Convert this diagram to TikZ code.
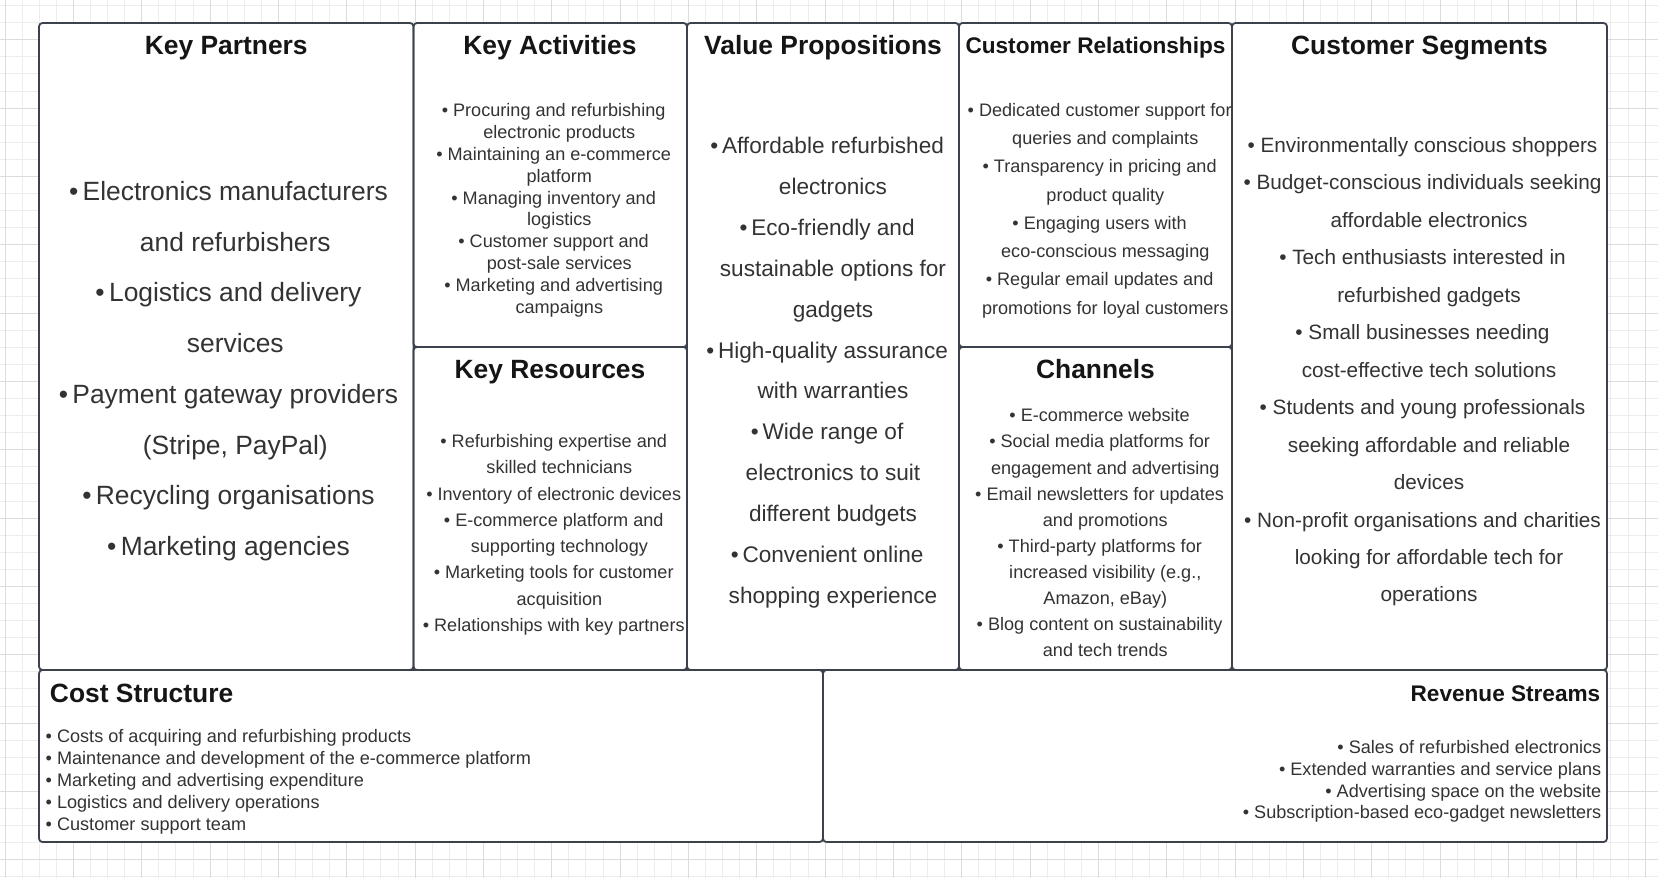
\documentclass[tikz,border=0pt]{standalone}
\usepackage{fontspec}
\setmainfont{Liberation Sans}
\usetikzlibrary{fit}
\definecolor{gridminor}{HTML}{EDEDED}
\definecolor{gridmajor}{HTML}{DCDCDC}
\definecolor{frame}{HTML}{3C424B}
\definecolor{headtext}{HTML}{151515}
\definecolor{bodytext}{HTML}{333333}
% hanging bullets for centred lists (the item text stays centred)
\newcommand{\bl}{\llap{•\ }}
\newcommand{\bn}{\llap{•\,}}
% inline bullet for left/right aligned lists
\newcommand{\bx}{•\ }
\begin{document}
\begin{tikzpicture}[x=1pt,y=-1pt,
  cellbox/.style={draw=frame, line width=1.8pt, rounded corners=3.5pt, inner sep=0pt},
  head/.style={text=headtext, font=\bfseries\fontsize{26.4}{30}\selectfont, inner sep=0pt, text height=18.9pt, text depth=0pt},
  headsmall/.style={head, font=\bfseries\fontsize{22.6}{26}\selectfont, text height=16.2pt},
  body/.style={text=bodytext, align=center, inner sep=0pt},
  bodysmall/.style={body, font=\fontsize{18.1}{#1}\selectfont},
]
\useasboundingbox (0,0) rectangle (1658,878);
\fill[white] (0,0) rectangle (1658,878);
% background grid
\foreach \i in {0,...,96}
  \draw[gridminor, line width=1pt] ({5.1+17.083*\i},0) -- ({5.1+17.083*\i},878);
\foreach \j in {0,...,51}
  \draw[gridminor, line width=1pt] (0,{5.6+17.083*\j}) -- (1658,{5.6+17.083*\j});
\foreach \i in {0,4,...,96}
  \draw[gridmajor, line width=1pt] ({5.1+17.083*\i},0) -- ({5.1+17.083*\i},878);
\foreach \j in {2,6,...,50}
  \draw[gridmajor, line width=1pt] (0,{5.6+17.083*\j}) -- (1658,{5.6+17.083*\j});
\fill[white] (39,23) rectangle (1607,842);

% canvas cells
\node[cellbox, fit={(39,23) (413.5,670)}] (kp) {};
\node[cellbox, fit={(413.5,23) (687,347)}] (ka) {};
\node[cellbox, fit={(413.5,347) (687,670)}] (kr) {};
\node[cellbox, fit={(687,23) (959,670)}] (vp) {};
\node[cellbox, fit={(959,23) (1232,347)}] (cr) {};
\node[cellbox, fit={(959,347) (1232,670)}] (ch) {};
\node[cellbox, fit={(1232,23) (1607,670)}] (cs) {};
\node[cellbox, fit={(39,670) (823,842)}] (cost) {};
\node[cellbox, fit={(823,670) (1607,842)}] (rev) {};

% headings
\node[head] (kph) at (226.25,45) {Key Partners};
\node[head] (kah) at (550,45) {Key Activities};
\node[head] (vph) at (823,45) {Value Propositions};
\node[headsmall] (crh) at (1095.5,45) {Customer Relationships};
\node[head] (csh) at (1419.5,45) {Customer Segments};
\node[head] (krh) at (550,369) {Key Resources};
\node[head] (chh) at (1095.5,369) {Channels};
\node[head, anchor=west] (costh) at (49.75,693) {Cost Structure};
\node[headsmall, anchor=east] (revh) at (1600.5,693.5) {Revenue Streams};

% cell contents
\node[body, font=\fontsize{26.4}{50.75}\selectfont] (kpb) at (235.3,371.2) {%
\bn Electronics manufacturers\\and refurbishers\\\bn Logistics and delivery\\services\\%
\bn Payment gateway providers\\(Stripe, PayPal)\\\bn Recycling organisations\\\bn Marketing agencies};

\node[bodysmall=21.85] (kab) at (559.3,210.3) {%
\bl Procuring and refurbishing\\electronic products\\\bl Maintaining an e-commerce\\platform\\%
\bl Managing inventory and\\logistics\\\bl Customer support and\\post-sale services\\%
\bl Marketing and advertising\\campaigns};

\node[bodysmall=26.3] (krb) at (559.4,534.8) {%
\bl Refurbishing expertise and\\skilled technicians\\\bl Inventory of electronic devices\\%
\bl E-commerce platform and\\supporting technology\\\bl Marketing tools for customer\\acquisition\\%
\bl Relationships with key partners};

\node[body, font=\fontsize{22.6}{40.85}\selectfont] (vpb) at (833,372.7) {%
\bn Affordable refurbished\\electronics\\\bn Eco-friendly and\\sustainable options for\\gadgets\\%
\bn High-quality assurance\\with warranties\\\bn Wide range of\\electronics to suit\\different budgets\\%
\bn Convenient online\\shopping experience};

\node[bodysmall=28.3] (crb) at (1105.3,210.5) {%
\bl Dedicated customer support for\\queries and complaints\\\bl Transparency in pricing and\\product quality\\%
\bl Engaging users with\\eco-conscious messaging\\\bl Regular email updates and\\promotions for loyal customers};

\node[bodysmall=26.1] (chb) at (1105.3,532.8) {%
\bl E-commerce website\\\bl Social media platforms for\\engagement and advertising\\%
\bl Email newsletters for updates\\and promotions\\\bl Third-party platforms for\\increased visibility (e.g.,\\Amazon, eBay)\\%
\bl Blog content on sustainability\\and tech trends};

\node[body, font=\fontsize{20.75}{37.47}\selectfont] (csb) at (1429,371.8) {%
\bl Environmentally conscious shoppers\\\bl Budget-conscious individuals seeking\\affordable electronics\\%
\bl Tech enthusiasts interested in\\refurbished gadgets\\\bl Small businesses needing\\cost-effective tech solutions\\%
\bl Students and young professionals\\seeking affordable and reliable\\devices\\%
\bl Non-profit organisations and charities\\looking for affordable tech for\\operations};

\node[bodysmall=21.9, align=left, anchor=west] (costb) at (45.5,781.6) {%
\bx Costs of acquiring and refurbishing products\\\bx Maintenance and development of the e-commerce platform\\%
\bx Marketing and advertising expenditure\\\bx Logistics and delivery operations\\\bx Customer support team};

\node[bodysmall=21.9, align=right, anchor=east] (revb) at (1601.5,781.4) {%
\bx Sales of refurbished electronics\\\bx Extended warranties and service plans\\%
\bx Advertising space on the website\\\bx Subscription-based eco-gadget newsletters};
\end{tikzpicture}
\end{document}
